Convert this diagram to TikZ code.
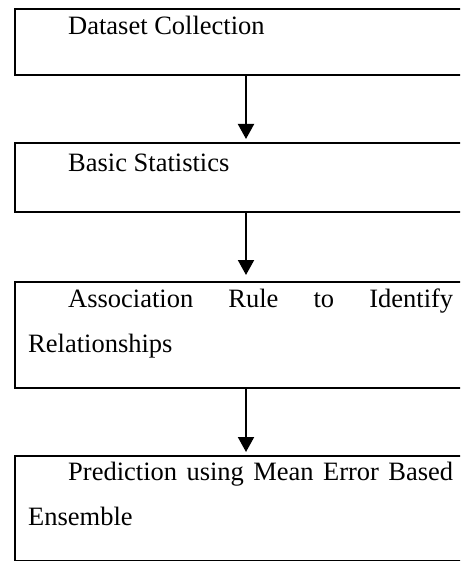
\documentclass[tikz,border=0pt]{standalone}
\usepackage{fontspec}
\setmainfont{Liberation Serif}
\usetikzlibrary{arrows.meta}
\tikzstyle{boite} = [draw,line width=2pt,anchor=north west,minimum width=462pt,inner sep=0pt]
\tikzstyle{libelle} = [anchor=base west,text width=425pt,align=justify,inner sep=0pt,xshift=14pt,font=\fontsize{26.5pt}{45.5pt}\selectfont]
\tikzstyle{flechebas} = [-{Triangle[width=16pt,length=15pt]},line width=2pt,shorten >=3pt]
\hyphenpenalty=10000
\exhyphenpenalty=10000
\tolerance=10000

\begin{document}
\begin{tikzpicture}[x=1pt,y=-1pt]
	\useasboundingbox (0,0) rectangle (460,561);
	\clip (0,0) rectangle (460,561);

	\node[boite,minimum height=66pt] (B1) at (14,8) {};
	\node[libelle,yshift=-27pt] (T1) at (B1.north west) {\hspace*{40pt}Dataset Collection};

	\node[boite,minimum height=69pt] (B2) at (14,142) {};
	\node[libelle,yshift=-30pt] (T2) at (B2.north west) {\hspace*{40pt}Basic Statistics};

	\node[boite,minimum height=106pt] (B3) at (14,281) {};
	\node[libelle,yshift=-26pt] (T3) at (B3.north west) {\hspace*{40pt}Association Rule to Identify Relationships};

	\node[boite,minimum height=105pt] (B4) at (14,455) {};
	\node[libelle,yshift=-25pt] (T4) at (B4.north west) {\hspace*{40pt}Prediction using Mean Error Based Ensemble};

	\draw[flechebas] (B1.south) -- (B2.north);
	\draw[flechebas,shorten >=6pt] (B2.south) -- (B3.north);
	\draw[flechebas] (B3.south) -- (B4.north);

\end{tikzpicture}
\end{document}
